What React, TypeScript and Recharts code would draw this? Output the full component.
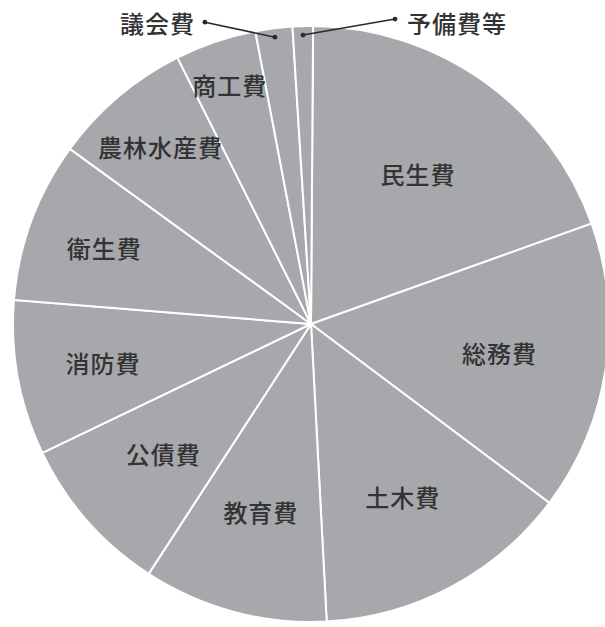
import React from 'react';
import { PieChart, Pie, Cell } from 'recharts';

// ---- data ----
const categories = ['民生費', '総務費', '土木費', '教育費', '公債費', '消防費', '衛生費', '農林水産費', '商工費', '議会費', '予備費等'];
const shares = [19.4, 15.7, 13.9, 10.0, 8.7, 8.4, 8.7, 7.6, 4.4, 2.0, 1.1];

// ---- layout / style ----
const W = 605;
const H = 627;
const FILL = '#a6a8ab';
const TEXT = '#333333';
const FONT = '"Noto Sans CJK JP", "Noto Sans", sans-serif';
const LABEL_RADIUS = [0.62, 0.64, 0.655, 0.65, 0.66, 0.71, 0.74, 0.78, 0.85];
const LEADERS: Record<number, { dx: number; dy: number; side: 'left' | 'right' }> = {
  9: { dx: -70, dy: -15, side: 'left' },
  10: { dx: 92, dy: -16, side: 'right' },
};

const data = categories.map((name, i) => ({ name, value: shares[i] }));
const RAD = Math.PI / 180;

const renderLabel = (props: any) => {
  const { cx, cy, midAngle, outerRadius, index } = props;
  const name = categories[index];
  const textStyle = { fontFamily: FONT, fontSize: 24, fontWeight: 500, letterSpacing: 1, fill: TEXT } as any;
  if (LEADERS[index]) {
    const lr = outerRadius * 0.97;
    const ix = cx + lr * Math.cos(-midAngle * RAD);
    const iy = cy + lr * Math.sin(-midAngle * RAD);
    const { dx, dy, side } = LEADERS[index];
    const ox = ix + dx;
    const oy = iy + dy;
    return (
      <g key={`lead-${index}`}>
        <line x1={ix} y1={iy} x2={ox} y2={oy} stroke="#2a2a2a" strokeWidth={1.6} />
        <circle cx={ix} cy={iy} r={2.4} fill="#2a2a2a" />
        <circle cx={ox} cy={oy} r={2.4} fill="#2a2a2a" />
        <text
          x={side === 'left' ? ox - 10 : ox + 12}
          y={oy + (side === 'left' ? 0 : 3)}
          textAnchor={side === 'left' ? 'end' : 'start'}
          dominantBaseline="central"
          style={textStyle}
        >
          {name}
        </text>
      </g>
    );
  }
  const r = outerRadius * LABEL_RADIUS[index];
  const x = cx + r * Math.cos(-midAngle * RAD);
  const y = cy + r * Math.sin(-midAngle * RAD);
  return (
    <text key={`lab-${index}`} x={x} y={y} textAnchor="middle" dominantBaseline="central" style={textStyle}>
      {name}
    </text>
  );
};

export default function App() {
  return (
    <div style={{ position: 'absolute', left: 0, top: 0, width: W, height: H, overflow: 'hidden', background: '#fff' }}>
      <PieChart width={W} height={H} margin={{ top: 0, right: 0, bottom: 0, left: 0 }}>
        <Pie
          data={data}
          dataKey="value"
          nameKey="name"
          cx={311}
          cy={324}
          outerRadius={298}
          startAngle={89.6}
          endAngle={-270.4}
          stroke="#ffffff"
          strokeWidth={2}
          label={renderLabel}
          labelLine={false}
          isAnimationActive={false}
        >
          {data.map((d, i) => (
            <Cell key={d.name} fill={FILL} stroke="#ffffff" strokeWidth={2} />
          ))}
        </Pie>
      </PieChart>
    </div>
  );
}
